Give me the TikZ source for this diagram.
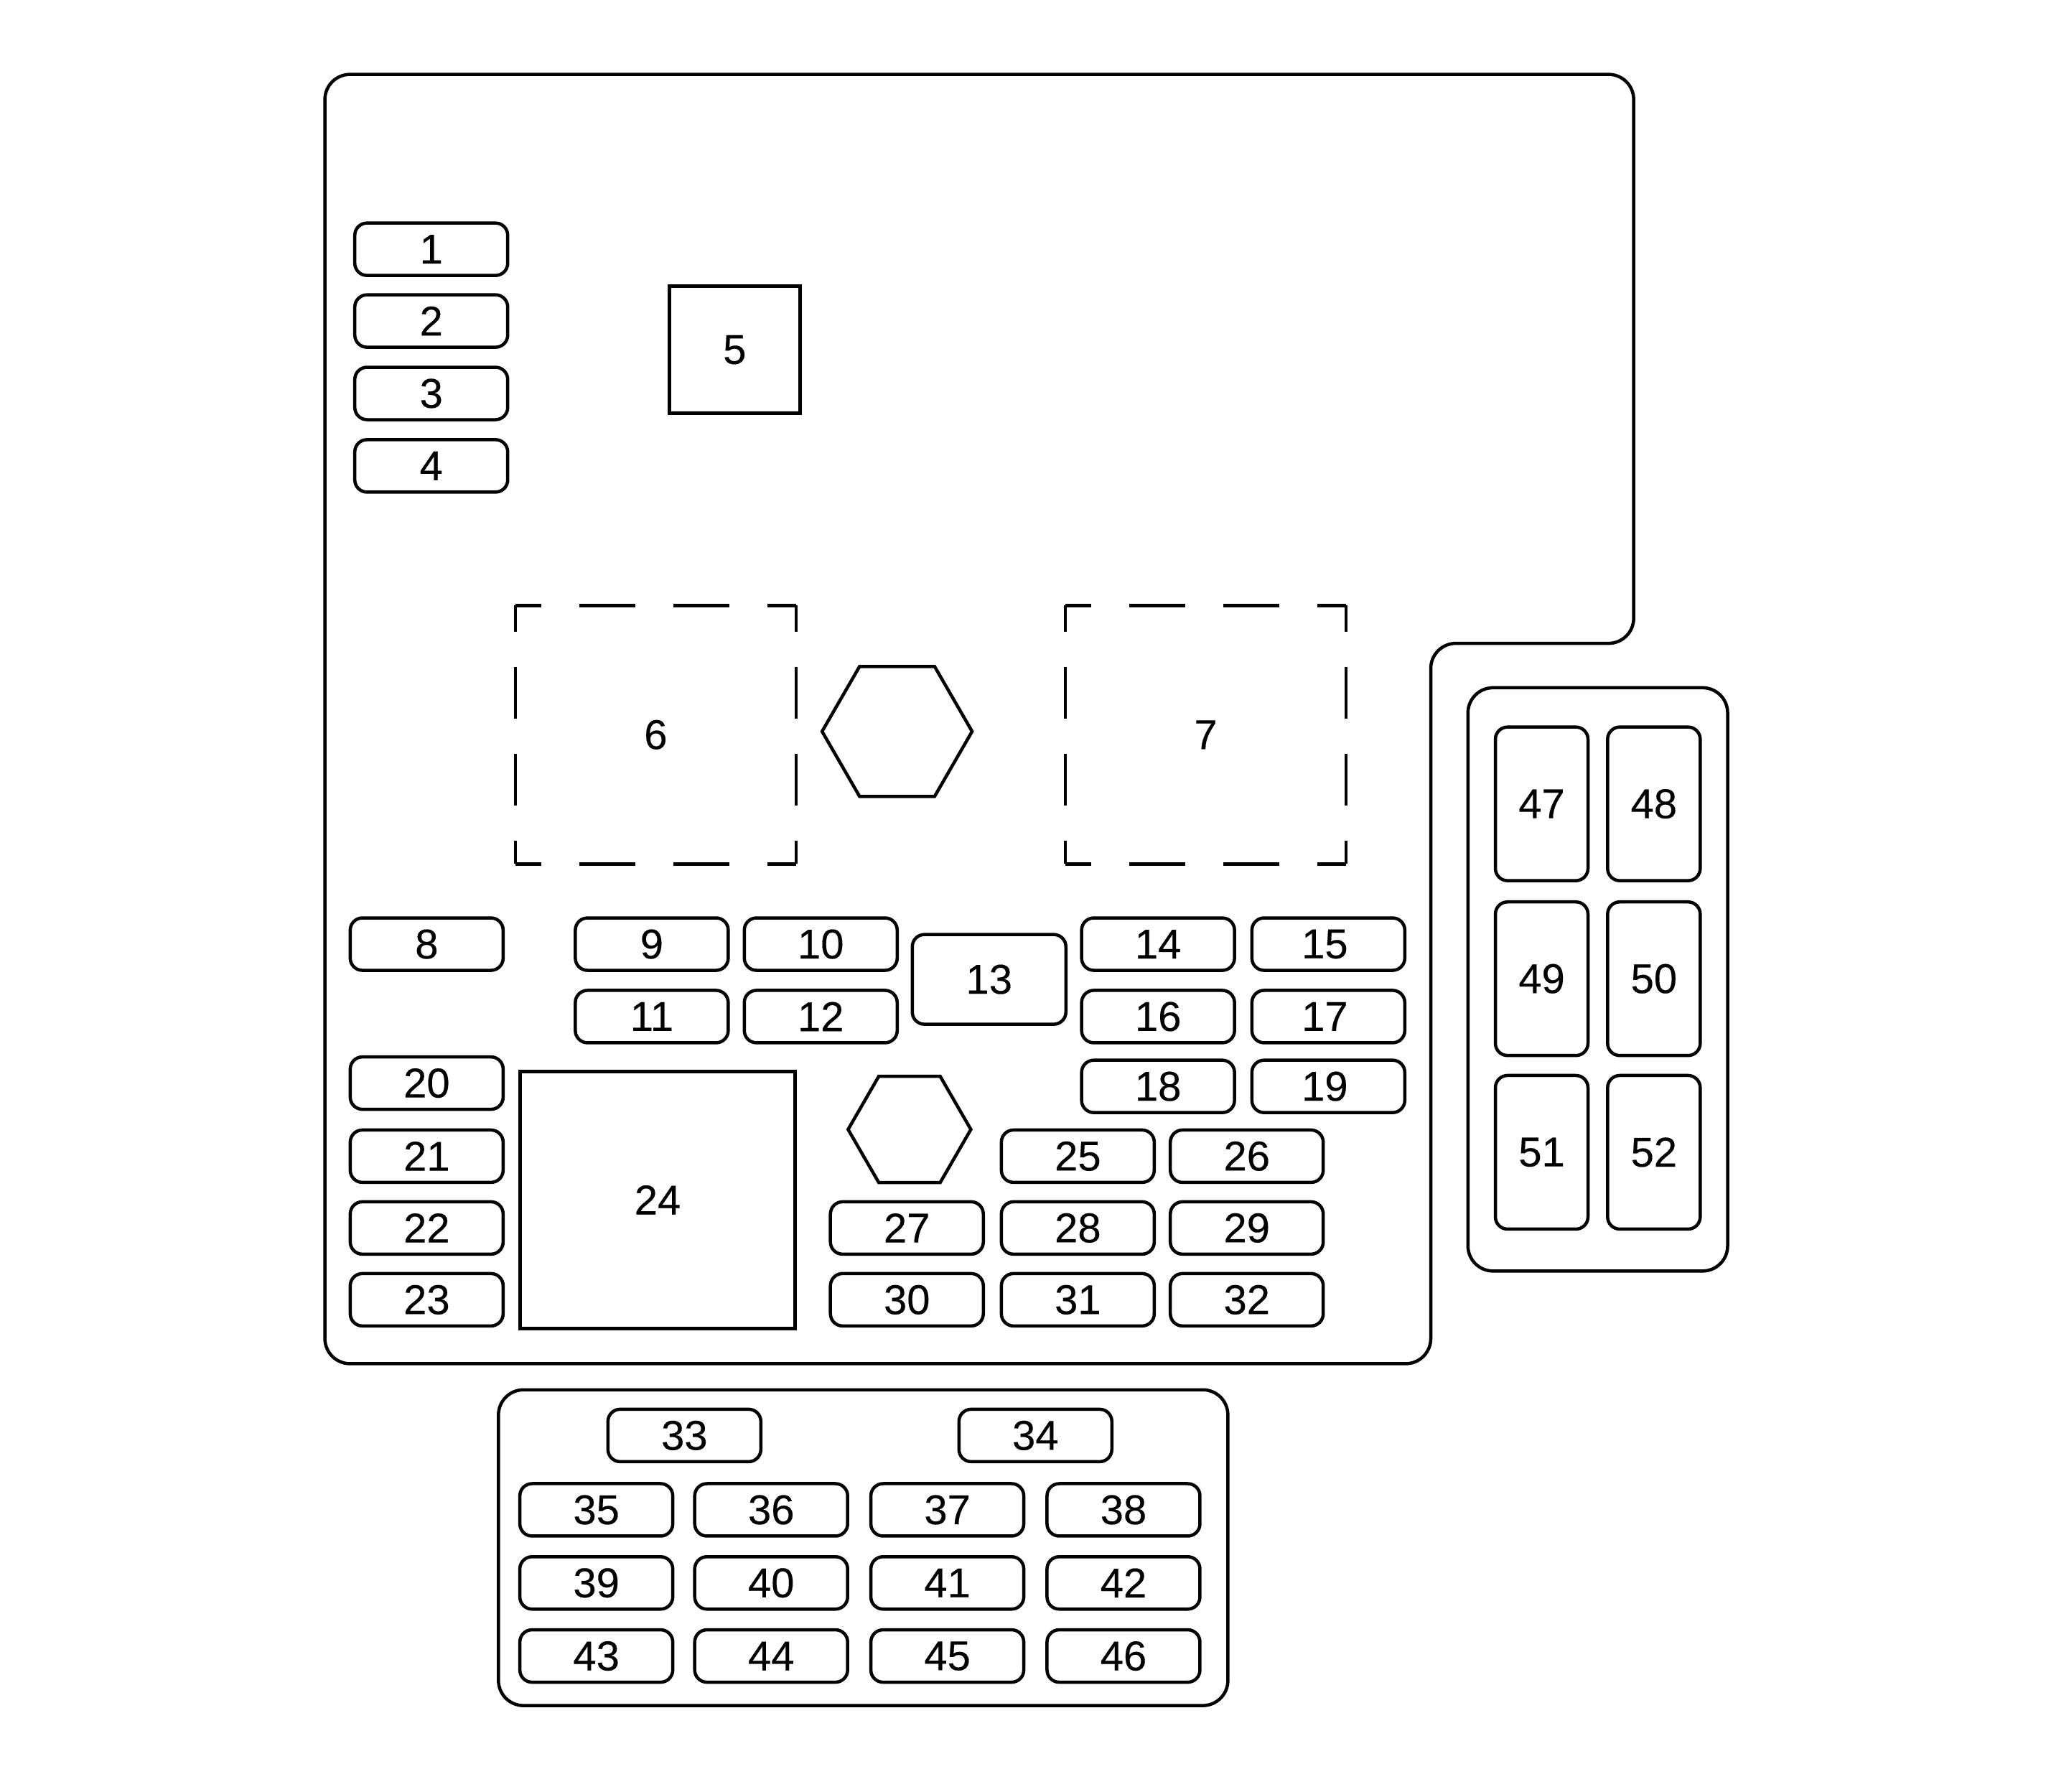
\documentclass[tikz,border=0pt]{standalone}
\usepackage{fontspec}
\setmainfont{Liberation Sans}[FakeBold=0.25]
\usetikzlibrary{shapes.geometric}
\tikzset{
  part/.style={draw, line width=4.5pt, font=\fontsize{58}{58}\selectfont, inner sep=0pt, outer sep=0pt},
  fuse/.style={part, rounded corners=17pt, minimum width=213pt, minimum height=73pt},
  relay/.style={part, rounded corners=17pt, minimum width=129pt, minimum height=214pt},
  panel/.style={line width=4.5pt, rounded corners=35pt},
  hexnut/.style={draw, line width=4.5pt, regular polygon, regular polygon sides=6, inner sep=0pt, outer sep=0pt},
  openbay/.style={font=\fontsize{58}{58}\selectfont, inner sep=0pt, outer sep=0pt, minimum width=391pt, minimum height=360pt},
  bayh/.style={line width=4.5pt, dash pattern=on 78pt off 53pt, dash phase=42pt},
  bayv/.style={line width=4.5pt, dash pattern=on 72pt off 49pt, dash phase=35pt}
}
\begin{document}
\begin{tikzpicture}[x=1.8176pt, y=-1.8176pt]
  \useasboundingbox (0,0) rectangle (1568,1373);

  % housing and the two side panels
  \draw[panel] (249,57) -- (1252,57) -- (1252,493) -- (1096.5,493) -- (1096.5,1045) -- (249,1045) -- cycle;
  \draw[panel] (1125,527) -- (1324,527) -- (1324,974) -- (1125,974) -- cycle;
  \draw[panel] (382,1065) -- (941,1065) -- (941,1307) -- (382,1307) -- cycle;

  % small fuses
  \foreach \n/\x/\y in {1/330.5/191, 2/330.5/246, 3/330.5/301.5, 4/330.5/357,
      8/327/723.5, 9/499.5/723.5, 10/629/723.5, 11/499.5/779, 12/629/779,
      14/887.5/723.5, 16/887.5/779, 18/887.5/832.5,
      20/327/830, 21/327/886, 22/327/941, 23/327/996,
      25/826/886, 26/955.5/886, 27/695/941, 28/826/941, 29/955.5/941,
      30/695/996, 31/826/996, 32/955.5/996,
      33/524.5/1100, 34/793.5/1100,
      35/457/1157, 36/591/1157, 37/726/1157, 38/861/1157,
      39/457/1213, 40/591/1213, 41/726/1213, 42/861/1213,
      43/457/1269, 44/591/1269, 45/726/1269, 46/861/1269}
    \node[fuse] (fuse\n) at (\x,\y) {\n};
  % these numbers sit left of centre
  \foreach \n/\y in {15/723.5, 17/779, 19/832.5}
    \node[fuse] (fuse\n) at (1018,\y) {\n\kern 10pt};

  % tall relays
  \foreach \n/\x/\y in {47/1181.5/616, 48/1267.5/616, 49/1181.5/750, 50/1267.5/750, 51/1181.5/883, 52/1267.5/883}
    \node[relay] (relay\n) at (\x,\y) {\n};

  % square parts
  \node[part, minimum width=182pt, minimum height=177pt] (box5) at (563,268) {5};
  \node[part, rounded corners=17pt, minimum width=214pt, minimum height=125pt] (box13) at (758,750.5) {13};
  \node[part, minimum width=383pt, minimum height=358pt] (box24) at (504,919.5) {24};

  % dashed bays
  \foreach \n/\x in {6/502.5, 7/924} {
    \node[openbay] (bay\n) at (\x,563) {\n};
    \draw[bayh] (bay\n.north west) -- (bay\n.north east);
    \draw[bayh] (bay\n.south west) -- (bay\n.south east);
    \draw[bayv] (bay\n.north west) -- (bay\n.south west);
    \draw[bayv] (bay\n.north east) -- (bay\n.south east);
  }

  % hex studs
  \node[hexnut, minimum size=209pt] (nut1) at (687.5,560.5) {};
  \node[hexnut, minimum size=171pt] (nut2) at (697,865.5) {};
\end{tikzpicture}
\end{document}
